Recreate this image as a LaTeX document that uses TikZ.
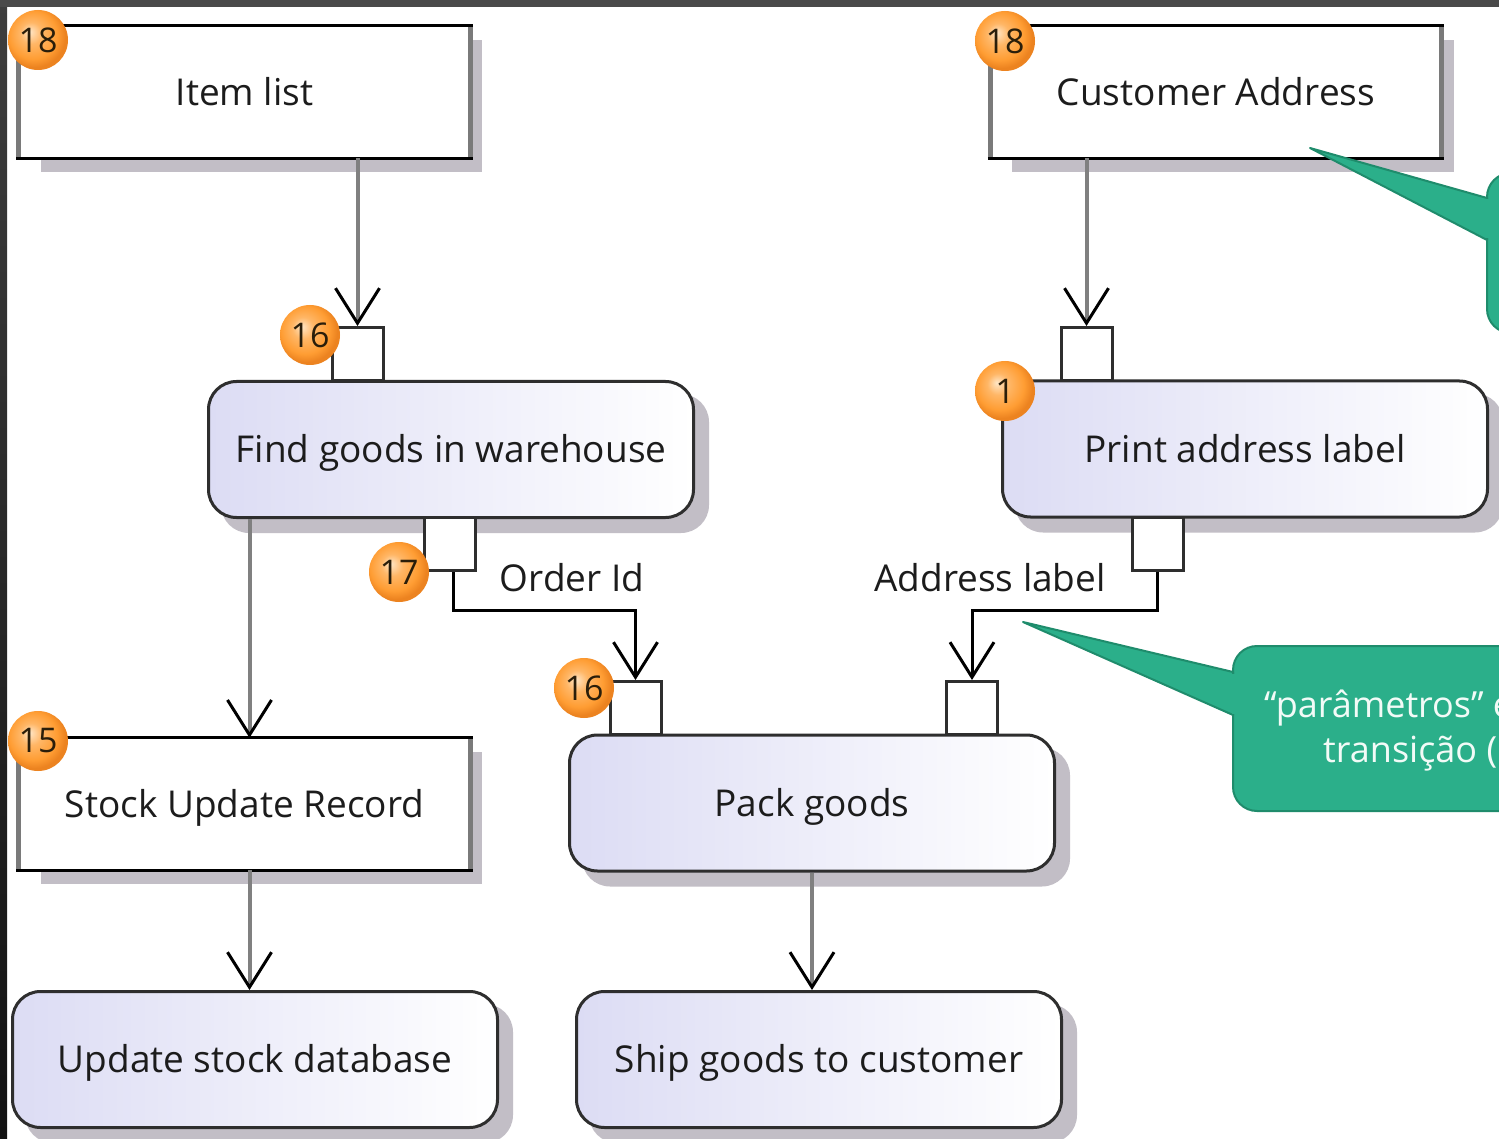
\documentclass[tikz,border=0pt]{standalone}
\usepackage{fontspec}
\setmainfont{Open Sans}
\usetikzlibrary{arrows.meta,calc,backgrounds}

\definecolor{framedark}{HTML}{4A4A4A}
\definecolor{frametop}{HTML}{3E3E3E}
\definecolor{framebottom}{HTML}{121212}
\definecolor{shadowgray}{HTML}{C2BEC6}
\definecolor{actleft}{HTML}{DCDCF4}
\definecolor{edgedark}{HTML}{2E2E2E}
\definecolor{edgegray}{HTML}{7A7A7A}
\definecolor{flowgray}{HTML}{808080}
\definecolor{notegreen}{HTML}{2BAF8A}
\definecolor{noteedge}{HTML}{1F8C6C}
\definecolor{notetextcol}{HTML}{F2FBF7}
\definecolor{badgeorange}{HTML}{FF9D33}
\definecolor{badgeedge}{HTML}{EC8320}
\definecolor{badgelight}{HTML}{FFE6C6}
\definecolor{badgetext}{HTML}{2A1E0A}
\definecolor{labeltext}{HTML}{1C1C1C}

% orange numbered marker
\pgfdeclareradialshading{badgeshade}{\pgfpoint{-7bp}{7bp}}{%
  color(0bp)=(badgelight);
  color(9bp)=(badgeorange!65!badgelight);
  color(20bp)=(badgeorange);
  color(26bp)=(badgeedge);
  color(50bp)=(badgeedge)}

% object node frame: dark top and bottom, grey sides
\newcommand\objframe[1]{%
  \draw[edgegray, line width=5pt] (#1.north west) -- (#1.south west)
                                  (#1.north east) -- (#1.south east);
  \draw[black, line width=3pt] ([xshift=-2.5pt]#1.north west) -- ([xshift=2.5pt]#1.north east)
                               ([xshift=-2.5pt]#1.south west) -- ([xshift=2.5pt]#1.south east);}

\tikzset{
  boxtext/.style={font=\fontsize{37}{40}\selectfont, text=labeltext,
                  text height=26.5pt, text depth=0pt},
  objbox/.style={boxtext, rectangle, fill=white, inner sep=0pt,
                 minimum width=451pt, minimum height=132pt},
  actbox/.style={boxtext, rectangle, rounded corners=28pt, inner sep=0pt,
                 left color=actleft, right color=white,
                 draw=edgedark, line width=3pt,
                 minimum width=485pt, minimum height=136pt},
  pinbox/.style={rectangle, fill=white, draw=edgedark, line width=3pt,
                 inner sep=0pt, minimum width=51pt, minimum height=53pt},
  marker/.style={circle, shading=badgeshade, inner sep=0pt, minimum size=60pt,
                 font=\fontsize{34}{34}\selectfont, text=badgetext},
  flowlabel/.style={boxtext, inner sep=0pt},
  tipv/.tip={Straight Barb[length=35pt, width=44pt, line width=3pt, color=black]},
  flow/.style={draw=flowgray, line width=4pt, -{tipv}},
  dataflow/.style={draw=black, line width=3pt, -{tipv}},
  notebody/.style={fill=notegreen, draw=noteedge, line width=2pt},
  notetext/.style={font=\fontsize{36}{40}\selectfont, text=notetextcol,
                   inner sep=0pt, anchor=base west},
}

\begin{document}
\begin{tikzpicture}[x=1pt, y=-1pt]
\useasboundingbox (0,0) rectangle (1499,1139);
\clip (0,0) rectangle (1499,1139);

% object nodes
\node[objbox] (il)    at (244.5,92)  {Item list};
\node[objbox] (ca)    at (1216,92)   {Customer Address};
\node[objbox] (stock) at (244.5,804) {Stock Update Record};

% actions
\node[actbox] (find)  at (451,449.5)  {Find goods in warehouse};
\node[actbox] (print) at (1245,449)   {Print address label};
\node[actbox] (pack)  at (812,803)    {Pack goods};
\node[actbox] (ship)  at (819,1059.5) {Ship goods to customer};
\node[actbox] (upd)   at (255,1059.5) {Update stock database};

\objframe{il}
\objframe{ca}
\objframe{stock}

% pins
\node[pinbox] (pinA) at (357.5,354) {};
\node[pinbox] (pinB) at (450,544)   {};
\node[pinbox] (pinC) at (1086.5,354) {};
\node[pinbox] (pinD) at (1157.5,544) {};
\node[pinbox] (pinE) at (635.5,708) {};
\node[pinbox] (pinF) at (972,708)   {};

% control and object flows
\coordinate (stockin) at ([xshift=5pt]stock.north);
\coordinate (bus) at (0,610);
\coordinate (pinBout) at ([xshift=3pt]pinB.south);
\draw[flow] (pinA.north |- il.south) -- (pinA.north);
\draw[flow] (pinC.north |- ca.south) -- (pinC.north);
\draw[flow] (stockin |- find.south) -- (stockin);
\draw[flow] (stockin |- stock.south) -- (stockin |- upd.north);
\draw[flow] (pack.south) -- (pack.south |- ship.north);
\draw[dataflow] (pinBout) -- (pinBout |- bus) -- (pinE.north |- bus) -- (pinE.north);
\draw[dataflow] (pinD.south) -- (pinD.south |- bus) -- (pinF.north |- bus) -- (pinF.north);

% flow labels
\node[flowlabel] (lblorder) at (572,578) {Order Id};
\node[flowlabel] (lbladdr)  at (990,578) {Address label};

% numbered markers
\node[marker] (m1) at (38,40)    {18};
\node[marker] (m2) at (1005,41)  {18};
\node[marker] (m3) at (310,335)  {16};
\node[marker] (m4) at (399,572)  {17};
\node[marker] (m5) at (584,688)  {16};
\node[marker] (m6) at (1005,391) {1};
\node[marker] (m7) at (38,741)   {15};

% callouts
\path[notebody, rounded corners=24pt] (1487,173) rectangle (1740,333);
\path[notebody, line join=round] (1310,148) -- (1487,198) -- (1487,240) -- cycle;
\fill[notegreen] (1485.5,199.5) rectangle (1490,238.5);

\path[notebody, rounded corners=24pt] (1233,646) rectangle (1740,811);
\path[notebody, line join=round] (1023,622) -- (1233,672) -- (1233,715) -- cycle;
\fill[notegreen] (1231.5,673.5) rectangle (1236,713.5);
\node[notetext] (noteA) at (1264,717) {“parâmetros” e};
\node[notetext] (noteB) at (1323,762) {transição (};

% page, frame and drop shadows
\begin{scope}[on background layer]
  \fill[white] (0,0) rectangle (1499,1139);
  \shade[top color=frametop, bottom color=framebottom] (0,0) rectangle (7,1139);
  \fill[framedark] (0,0) rectangle (1499,7.5);
  \foreach \o in {il,ca,stock}
    \fill[shadowgray] ($(\o.north west)+(22,14)$) rectangle ($(\o.south east)+(12,14)$);
  \foreach \a in {find,print,pack,ship,upd}
    \fill[shadowgray, rounded corners=28pt] ($(\a.north west)+(14,14)$) rectangle ($(\a.south east)+(14,14)$);
\end{scope}
\end{tikzpicture}
\end{document}
